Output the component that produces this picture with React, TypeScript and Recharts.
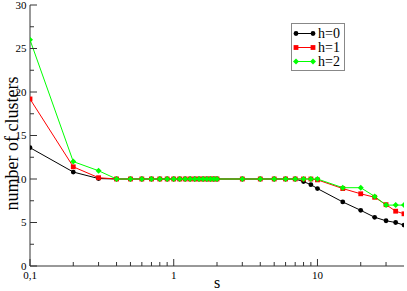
import React from 'react';
import { LineChart, Line, XAxis, YAxis, Legend } from 'recharts';

// s values (log axis)
const sValues = [
  0.1, 0.2, 0.3, 0.4, 0.5, 0.6, 0.7, 0.8, 0.9, 1.0, 1.1, 1.2, 1.3, 1.4, 1.5, 1.6, 1.7, 1.8, 1.9, 2.0,
  3, 4, 5, 6, 7, 8, 9, 10, 15, 20, 25, 30, 35, 40,
];

const h0 = [
  13.6, 10.8, 10.05, 10, 10, 10, 10, 10, 10, 10, 10, 10, 10, 10, 10, 10, 10, 10, 10, 10,
  10, 10, 10, 10, 10, 9.7, 9.35, 8.9, 7.36, 6.4, 5.6, 5.2, 5.0, 4.7,
];
const h1 = [
  19.2, 11.4, 10.15, 10, 10, 10, 10, 10, 10, 10, 10, 10, 10, 10, 10, 10, 10, 10, 10, 10,
  10, 10, 10, 10, 10, 10, 10, 9.9, 8.9, 8.3, 7.9, 7.05, 6.3, 6.0,
];
const h2 = [
  26.0, 12.0, 10.95, 10, 10, 10, 10, 10, 10, 10, 10, 10, 10, 10, 10, 10, 10, 10, 10, 10,
  10, 10, 10, 10, 10, 10, 10, 10, 9.0, 9.0, 8.0, 7.0, 7.0, 7.0,
];

const xMajorTicks = [0.1, 1, 10];
const xTickLabels = ['0,1', '1', '10'];
const xMinorTicks = [0.2, 0.3, 0.4, 0.5, 0.6, 0.7, 0.8, 0.9, 2, 3, 4, 5, 6, 7, 8, 9, 20, 30];
const yMajorTicks = [0, 5, 10, 15, 20, 25, 30];
const yMinorTicks = [2.5, 7.5, 12.5, 17.5, 22.5, 27.5];

const series = [
  { key: 'h0', name: 'h=0', color: '#000000', shape: 'circle' },
  { key: 'h1', name: 'h=1', color: '#ff0000', shape: 'square' },
  { key: 'h2', name: 'h=2', color: '#00ff00', shape: 'diamond' },
];

const data = sValues.map((s, i) => ({ s, h0: h0[i], h1: h1[i], h2: h2[i] }));

const axisColor = '#333';
const font = 'Liberation Serif, Times New Roman, serif';

const Marker = ({ cx, cy, color, shape }: any) => {
  if (cx == null || cy == null) return null;
  if (shape === 'circle') return <circle cx={cx} cy={cy} r={2.4} fill={color} />;
  if (shape === 'square')
    return <rect x={cx - 2.4} y={cy - 2.4} width={4.8} height={4.8} fill={color} />;
  return (
    <polygon
      points={`${cx},${cy - 3} ${cx + 3},${cy} ${cx},${cy + 3} ${cx - 3},${cy}`}
      fill={color}
    />
  );
};

const BottomTick = ({ x, y, payload }: any) => {
  const idx = xMajorTicks.indexOf(payload.value);
  const major = idx >= 0;
  return (
    <g>
      <line x1={x} x2={x} y1={y} y2={y - (major ? 7 : 4)} stroke={axisColor} />
      {major && (
        <text x={x} y={y + 12.5} textAnchor="middle" fontSize={11} style={{ fontFamily: font }} fill="#000">
          {xTickLabels[idx]}
        </text>
      )}
    </g>
  );
};

const TopTick = ({ x, y, payload }: any) => {
  const major = xMajorTicks.includes(payload.value);
  return <line x1={x} x2={x} y1={y} y2={y + (major ? 7 : 4)} stroke={axisColor} />;
};

const LeftTick = ({ x, y, payload }: any) => {
  const major = yMajorTicks.includes(payload.value);
  return (
    <g>
      <line x1={x} x2={x + (major ? 7 : 4)} y1={y} y2={y} stroke={axisColor} />
      {major && (
        <text x={x - 3.5} y={y} dy="0.35em" textAnchor="end" fontSize={11} style={{ fontFamily: font }} fill="#000">
          {payload.value}
        </text>
      )}
    </g>
  );
};

const RightTick = ({ x, y, payload }: any) => {
  const major = yMajorTicks.includes(payload.value);
  return <line x1={x} x2={x - (major ? 7 : 4)} y1={y} y2={y} stroke={axisColor} />;
};

const LegendBox = () => (
  <div style={{ border: '1px solid #888', width: 52, height: 46, background: '#fff' }}>
    <svg width={52} height={46}>
      {series.map((s, i) => {
        const y = 9.5 + i * 14;
        return (
          <g key={s.key}>
            <line x1={4} x2={21} y1={y} y2={y} stroke={s.color} />
            <Marker cx={4} cy={y} color={s.color} shape={s.shape} />
            <Marker cx={21} cy={y} color={s.color} shape={s.shape} />
            <text x={26} y={y + 4.5} fontSize={14} style={{ fontFamily: font }} fill="#000">
              {s.name}
            </text>
          </g>
        );
      })}
    </svg>
  </div>
);

export default function App() {
  const xTicks = [...xMajorTicks, ...xMinorTicks];
  const yTicks = [...yMajorTicks, ...yMinorTicks];
  return (
    <div style={{ position: 'absolute', left: 0, top: 0, background: '#fff' }}>
      <LineChart width={407} height={291} data={data} margin={{ top: 5, right: 3, left: 0, bottom: 0 }}>
        <XAxis
          xAxisId="bottom"
          dataKey="s"
          type="number"
          scale="log"
          domain={[0.1, 40]}
          allowDataOverflow
          ticks={xTicks}
          interval={0}
          height={25}
          tickSize={0}
          tickMargin={0}
          tickLine={false}
          axisLine={{ stroke: axisColor }}
          tick={<BottomTick />}
          label={(p: any) => {
            const vb = p.viewBox;
            return (
              <text x={vb.x + vb.width / 2} y={vb.y + 22} textAnchor="middle" fontSize={16} style={{ fontFamily: font }} fill="#000">
                s
              </text>
            );
          }}
        />
        <XAxis
          xAxisId="top"
          orientation="top"
          dataKey="s"
          type="number"
          scale="log"
          domain={[0.1, 40]}
          allowDataOverflow
          ticks={xTicks}
          interval={0}
          height={0}
          tickSize={0}
          tickMargin={0}
          tickLine={false}
          axisLine={{ stroke: axisColor }}
          tick={<TopTick />}
        />
        <YAxis
          yAxisId="left"
          type="number"
          domain={[0, 30]}
          ticks={yTicks}
          interval={0}
          width={30}
          tickSize={0}
          tickMargin={0}
          tickLine={false}
          axisLine={{ stroke: axisColor }}
          tick={<LeftTick />}
          label={(p: any) => {
            const vb = p.viewBox;
            const cx = 12;
            const cy = vb.y + vb.height / 2 + 8;
            return (
              <text x={cx} y={cy} transform={`rotate(-90 ${cx} ${cy})`} textAnchor="middle" dominantBaseline="central" fontSize={18} style={{ fontFamily: font }} fill="#000">
                number of clusters
              </text>
            );
          }}
        />
        <YAxis
          yAxisId="right"
          orientation="right"
          type="number"
          domain={[0, 30]}
          ticks={yTicks}
          interval={0}
          width={0}
          tickSize={0}
          tickMargin={0}
          tickLine={false}
          axisLine={{ stroke: axisColor }}
          tick={<RightTick />}
        />
        <Legend
          layout="vertical"
          align="center"
          verticalAlign="middle"
          wrapperStyle={{ left: 291, top: 23, width: 54, height: 48 }}
          content={() => <LegendBox />}
        />
        {series.map((s) => (
          <Line
            key={s.key}
            xAxisId="bottom"
            yAxisId="left"
            dataKey={s.key}
            name={s.name}
            stroke={s.color}
            strokeWidth={1}
            isAnimationActive={false}
            dot={(p: any) => <Marker key={`${s.key}-${p.index}`} cx={p.cx} cy={p.cy} color={s.color} shape={s.shape} />}
            activeDot={false}
          />
        ))}
      </LineChart>
    </div>
  );
}
